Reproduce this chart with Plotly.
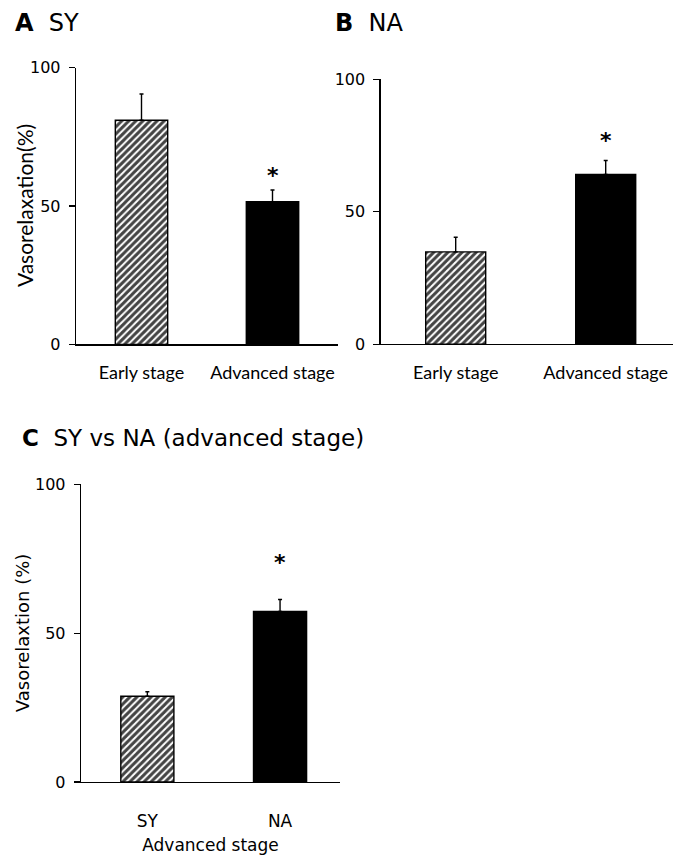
import plotly.graph_objects as go

W, H = 673, 859

# ---------------- data ----------------
a_categories = ["Early stage", "Advanced stage"]
a_values = [81.0, 51.6]
a_errors = [9.5, 4.2]

b_categories = ["Early stage", "Advanced stage"]
b_values = [34.8, 64.0]
b_errors = [5.5, 5.3]

c_categories = ["SY", "NA"]
c_values = [28.8, 57.3]
c_errors = [1.5, 4.0]

significant = [False, True]          # asterisk above second bar
y_tickvals = [0, 50, 100]
y_ticktext = ["0", "50", "100"]

# ---------------- styles ----------------
BAR_COLORS = ["white", "black"]
BAR_PATTERNS = ["/", ""]
TAHOMA = "DejaVu Sans"
CALIBRI = "Lato"


def px_x(p):
    return p / W


def px_y(p):
    return 1 - p / H


def bar_trace(cats, vals, errs, xa, ya):
    return go.Bar(
        x=cats, y=vals, xaxis=xa, yaxis=ya, width=0.4,
        marker=dict(color=BAR_COLORS,
                    line=dict(color="black", width=1.4),
                    pattern=dict(shape=BAR_PATTERNS, fgcolor="black", fgopacity=1,
                                 size=5, solidity=0.6)),
        error_y=dict(type="data", symmetric=False, array=errs,
                     arrayminus=[0] * len(errs), color="black",
                     thickness=1.4, width=2),
        showlegend=False, hoverinfo="skip",
    )


fig = go.Figure()
fig.add_trace(bar_trace(a_categories, a_values, a_errors, "x", "y"))
fig.add_trace(bar_trace(b_categories, b_values, b_errors, "x2", "y2"))
fig.add_trace(bar_trace(c_categories, c_values, c_errors, "x3", "y3"))

xcommon = dict(showline=True, linecolor="black", linewidth=1.3, ticks="",
               showgrid=False, zeroline=False, fixedrange=True)
ycommon = dict(showline=True, linecolor="black", linewidth=1.3, ticks="outside",
               ticklen=6, tickwidth=1.2, tickcolor="black", showgrid=False,
               zeroline=False, range=[0, 100], tickvals=y_tickvals,
               ticktext=y_ticktext, tickfont=dict(family=TAHOMA, size=16, color="black"),
               ticklabelstandoff=5, fixedrange=True)

# Panel geometry (pixels measured on the reference)
A_x0, A_x1, A_y0, A_y1 = 76, 338, 343, 60
B_x0, B_x1, B_y0, B_y1 = 380.7, 673, 342.7, 71.7
C_x0, C_x1, C_y0, C_y1 = 81, 340, 790.5, 486

fig.update_layout(
    width=W, height=H, margin=dict(l=0, r=0, t=0, b=0),
    paper_bgcolor="white", plot_bgcolor="white", bargap=0,
    xaxis=dict(xcommon, domain=[px_x(A_x0), px_x(A_x1)], anchor="y",
               range=[-0.5, 1.5],
               tickfont=dict(family=CALIBRI, size=18, color="black"),
               ticklabelstandoff=12),
    yaxis=dict(ycommon, domain=[px_y(A_y0), px_y(A_y1)], anchor="x"),
    xaxis2=dict(xcommon, domain=[px_x(B_x0), px_x(B_x1)], anchor="y2",
                range=[-0.5, -0.5 + (B_x1 - B_x0) / 150.0],
                tickfont=dict(family=CALIBRI, size=18, color="black"),
                ticklabelstandoff=12),
    yaxis2=dict(ycommon, domain=[px_y(B_y0), px_y(B_y1)], anchor="x2"),
    xaxis3=dict(xcommon, domain=[px_x(C_x0), px_x(C_x1)], anchor="y3",
                range=[-0.5, -0.5 + (C_x1 - C_x0) / 132.7],
                tickfont=dict(family=TAHOMA, size=17, color="black"),
                ticklabelstandoff=23,
                title=dict(text="Advanced stage", standoff=9,
                           font=dict(family=TAHOMA, size=17, color="black"))),
    yaxis3=dict(ycommon, domain=[px_y(C_y0), px_y(C_y1)], anchor="x3"),
)

ann = []
# panel titles
ann.append(dict(text="<b>A</b>\u00a0\u00a0SY", x=px_x(13), y=px_y(14), xref="paper", yref="paper",
                xanchor="left", yanchor="middle", showarrow=False,
                font=dict(family=TAHOMA, size=24, color="black")))
ann.append(dict(text="<b>B</b>\u00a0\u00a0NA", x=px_x(333), y=px_y(14), xref="paper", yref="paper",
                xanchor="left", yanchor="middle", showarrow=False,
                font=dict(family=TAHOMA, size=24, color="black")))
ann.append(dict(text="<b>C</b>\u00a0\u00a0SY vs NA (advanced stage)", x=px_x(20), y=px_y(439),
                xref="paper", yref="paper", xanchor="left", yanchor="middle", showarrow=False,
                font=dict(family=TAHOMA, size=23, color="black")))
# y titles
ann.append(dict(text="Vasorelaxation(%)", x=px_x(24), y=0.5, xref="paper", yref="y domain",
                textangle=-90, showarrow=False, xanchor="center", yanchor="middle",
                font=dict(family=CALIBRI, size=21, color="black")))
ann.append(dict(text="Vasorelaxtion (%)", x=px_x(22), y=0.5, xref="paper", yref="y3 domain",
                textangle=-90, showarrow=False, xanchor="center", yanchor="middle",
                font=dict(family=TAHOMA, size=18, color="black")))

# asterisks
star_shift = {"": 0, "2": 5, "3": 22}
for suffix, cats, vals, errs in [("", a_categories, a_values, a_errors),
                                 ("2", b_categories, b_values, b_errors),
                                 ("3", c_categories, c_values, c_errors)]:
    for c, v, e, s in zip(cats, vals, errs, significant):
        if s:
            ann.append(dict(text="<b>*</b>", x=c, y=v + e, xref="x" + suffix, yref="y" + suffix,
                            xanchor="center", yanchor="bottom", yshift=star_shift[suffix],
                            showarrow=False, font=dict(family=TAHOMA, size=22, color="black")))

fig.update_layout(annotations=ann)
fig.write_html("out.html", config={"displayModeBar": False, "staticPlot": True},
               post_script="document.body.style.margin='0px';document.body.style.overflow='hidden';")
